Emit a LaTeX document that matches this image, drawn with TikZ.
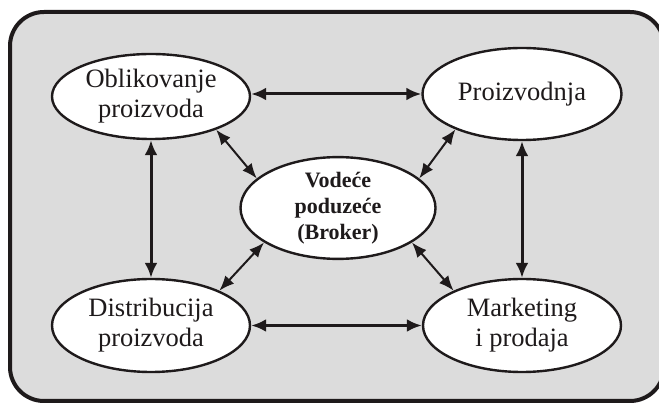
\documentclass[tikz,border=0pt]{standalone}
\usepackage{fontspec}
\setmainfont{Liberation Serif}
\usetikzlibrary{arrows.meta,shapes.geometric}
\definecolor{panel}{RGB}{220,220,220}
\definecolor{ink}{RGB}{30,26,27}
\begin{document}
\begin{tikzpicture}[x=1pt,y=-1pt,
  oval/.style={ellipse,draw=ink,line width=2.4pt,fill=white,inner sep=0pt,
    align=center,text=ink,font=\fontsize{26.5}{30}\selectfont},
  bigarrow/.style={draw=ink,line width=3pt,
    {Latex[length=15pt,width=13pt]}-{Latex[length=15pt,width=13pt]}},
  smallarrow/.style={draw=ink,line width=2pt,
    {Latex[length=15pt,width=12pt]}-{Latex[length=15pt,width=12pt]}}]
\path[use as bounding box] (0,0) rectangle (659,403);
\begin{scope}
\clip (0,0) rectangle (659,403);
% outer panel, its right side runs past the edge
\draw[ink,line width=4pt,fill=panel,rounded corners=34pt] (10,12) rectangle (664,401);
\end{scope}
% activities
\node[oval,minimum width=198pt,minimum height=85pt] (obl) at (151,96.5) {Oblikovanje\\proizvoda};
\node[oval,minimum width=199pt,minimum height=92pt] (pro) at (522,94) {Proizvodnja};
\node[oval,minimum width=198pt,minimum height=93pt] (dis) at (151,325.5) {Distribucija\\proizvoda};
\node[oval,minimum width=198pt,minimum height=93pt] (mar) at (522,325.5) {Marketing\\i prodaja};
\node[oval,minimum width=195pt,minimum height=88pt,font=\fontsize{22}{26}\selectfont\bfseries] (brk) at (338,208) {Vodeće\\poduzeće\\(Broker)};
% links between activities
\draw[bigarrow] (obl.east |- pro.west) -- (pro.west);
\draw[bigarrow] (dis.east) -- (mar.west);
\draw[bigarrow] (obl.south) -- (dis.north);
\draw[bigarrow] (pro.south) -- (mar.north);
% links to the broker
\draw[smallarrow] (obl.-27) -- (brk.160);
\draw[smallarrow] (pro.208) -- (brk.20);
\draw[smallarrow] (dis.27) -- (brk.205);
\draw[smallarrow] (mar.153) -- (brk.-25);
\end{tikzpicture}
\end{document}
